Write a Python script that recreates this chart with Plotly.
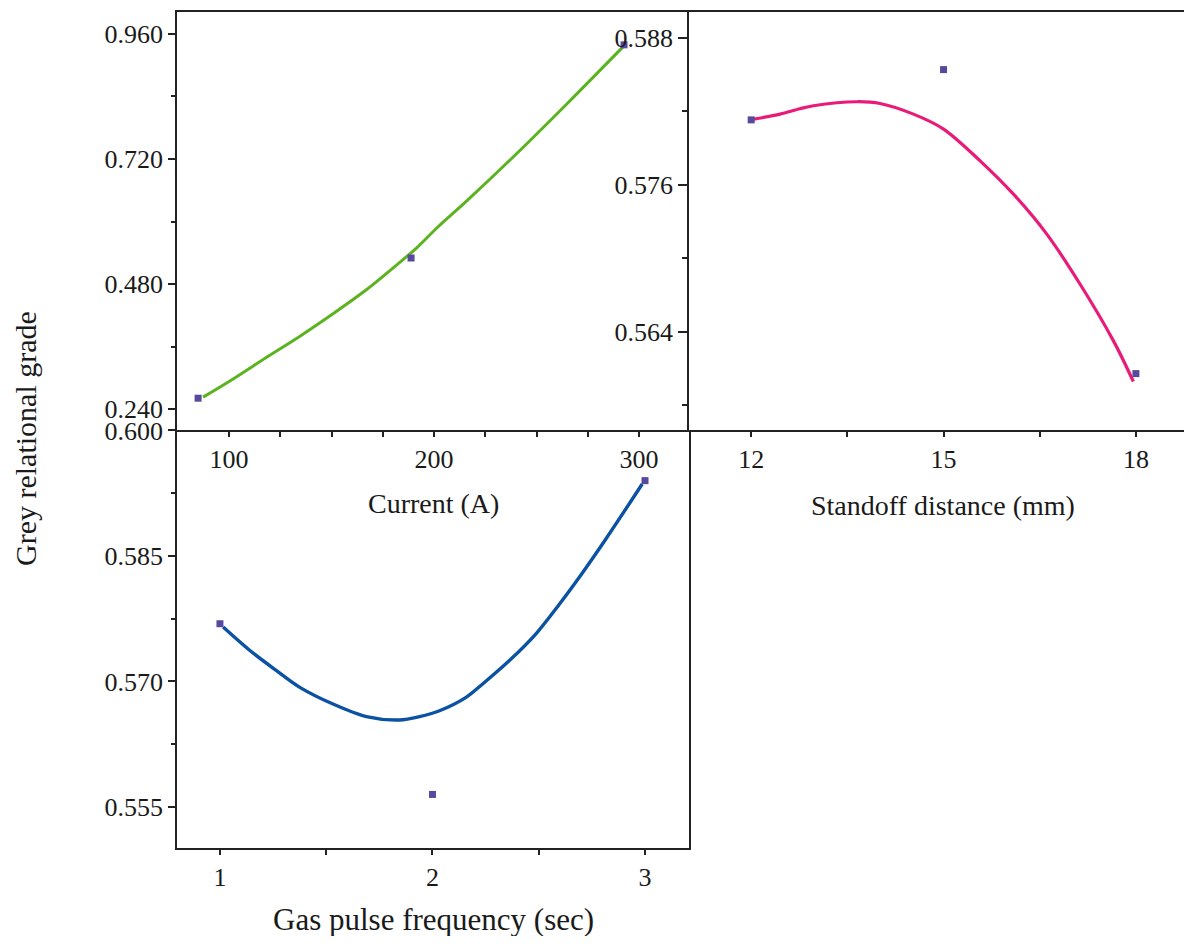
import plotly.graph_objects as go

# ---------------- data ----------------
# Panel 1: Current (A)
current_pts_x = [84.9, 188.8, 292.7]
current_pts_y = [0.261, 0.530, 0.939]
current_fit_x = [87.3, 102.0, 118.5, 134.6, 150.7, 167.3, 183.4, 191.7, 201.5, 216.1, 240.5, 264.9, 292.2]
current_fit_y = [0.263, 0.298, 0.340, 0.380, 0.423, 0.470, 0.522, 0.550, 0.588, 0.640, 0.731, 0.826, 0.935]
current_ticks = [100, 200, 300]
current_minor = [125, 150, 175, 225, 250, 275]
current_yticks = [0.240, 0.480, 0.720, 0.960]
current_yminor = [0.360, 0.600, 0.840]

# Panel 2: Standoff distance (mm)
standoff_pts_x = [12, 15, 18]
standoff_pts_y = [0.5813, 0.5854, 0.5606]
standoff_fit_x = [12.04, 12.45, 12.76, 12.97, 13.65, 14.01, 14.53, 15.00, 15.57, 16.09, 16.61, 17.13, 17.65, 17.96]
standoff_fit_y = [0.58136, 0.58177, 0.58221, 0.58245, 0.58278, 0.58264, 0.58177, 0.58055, 0.57796, 0.57524, 0.57198, 0.56789, 0.56327, 0.55996]
standoff_ticks = [12, 15, 18]
standoff_minor = [13.5, 16.5]
standoff_yticks = [0.564, 0.576, 0.588]
standoff_yminor = [0.558, 0.570, 0.582]

# Panel 3: Gas pulse frequency (sec)
gas_pts_x = [1, 2, 3]
gas_pts_y = [0.5769, 0.5565, 0.5940]
gas_fit_x = [1.015, 1.141, 1.266, 1.376, 1.532, 1.689, 1.845, 1.939, 2.033, 2.158, 2.236, 2.362, 2.487, 2.596, 2.706, 2.815, 2.987]
gas_fit_y = [0.5765, 0.5737, 0.5713, 0.5693, 0.5673, 0.5658, 0.5654, 0.5658, 0.5665, 0.5681, 0.5697, 0.5725, 0.5757, 0.5792, 0.5830, 0.5870, 0.5936]
gas_ticks = [1, 2, 3]
gas_minor = [1.5, 2.5]
gas_yticks = [0.555, 0.570, 0.585, 0.600]
gas_yminor = [0.5625, 0.5775, 0.5925]

# ---------------- layout helpers ----------------
W, H = 1176, 928
OFF = 8  # default body margin of the page


def fx(px):
    return (px - OFF) / W


def fy(py):
    return 1 - (py - OFF) / H


FONT = "Liberation Serif"
TXT = "#1a1a1a"
FRAME = "#222222"
MARK = "#574a9e"

fig = go.Figure()

# fitted curves
fig.add_trace(go.Scatter(x=current_fit_x, y=current_fit_y, mode="lines",
                         line=dict(color="#5cb320", width=3, shape="spline", smoothing=0.9),
                         xaxis="x", yaxis="y", showlegend=False))
fig.add_trace(go.Scatter(x=standoff_fit_x, y=standoff_fit_y, mode="lines",
                         line=dict(color="#e81c78", width=3.2, shape="spline", smoothing=0.9),
                         xaxis="x2", yaxis="y2", showlegend=False))
fig.add_trace(go.Scatter(x=gas_fit_x, y=gas_fit_y, mode="lines",
                         line=dict(color="#0b52a3", width=3.4, shape="spline", smoothing=0.9),
                         xaxis="x3", yaxis="y3", showlegend=False))

# points
for xs, ys, xa, ya in [(current_pts_x, current_pts_y, "x", "y"),
                       (standoff_pts_x, standoff_pts_y, "x2", "y2"),
                       (gas_pts_x, gas_pts_y, "x3", "y3")]:
    fig.add_trace(go.Scatter(x=xs, y=ys, mode="markers", marker=dict(symbol="square", size=7, color=MARK),
                             xaxis=xa, yaxis=ya, showlegend=False, cliponaxis=False))

tickfont = dict(family=FONT, size=26, color=TXT)


def axis(domain, rng, tickvals, minor_vals, anchor, fmt=None, mirror=True, ticklen=6, minorlen=4):
    d = dict(domain=domain, range=rng, tickmode="array", tickvals=tickvals, automargin=False,
             ticks="outside", ticklen=ticklen, tickwidth=1.5, tickcolor=FRAME,
             showline=True, linecolor=FRAME, linewidth=1.6, mirror=mirror,
             showgrid=False, zeroline=False, tickfont=tickfont, anchor=anchor,
             minor=dict(tickmode="array", tickvals=minor_vals, ticks="outside", ticklen=minorlen,
                        tickwidth=1.5, tickcolor=FRAME, showgrid=False))
    if fmt:
        d["tickformat"] = fmt
    return d


xl = [fx(177), fx(689)]
xr = [fx(689), 1.0]
ytop = [fy(430), fy(12)]
ybot = [fy(848), fy(430)]

fig.update_layout(
    width=W, height=H,
    margin=dict(l=0, r=0, t=0, b=0, autoexpand=False),
    paper_bgcolor="white", plot_bgcolor="white",
    font=dict(family=FONT, color=TXT),
    xaxis=axis(xl, [74.6, 324.4], current_ticks, current_minor, "y", ticklen=5, minorlen=5),
    yaxis=axis(ytop, [0.200, 1.002], current_yticks, current_yminor, "x", fmt=".3f", mirror=False, ticklen=7, minorlen=4),
    xaxis2=axis(xr, [11.03, 18.75], standoff_ticks, standoff_minor, "y2", ticklen=5, minorlen=5),
    yaxis2=axis(ytop, [0.556, 0.5901], standoff_yticks, standoff_yminor, "x2", fmt=".3f", mirror=False, ticklen=9, minorlen=5),
    xaxis3=axis(xl, [0.798, 3.207], gas_ticks, gas_minor, "y3", mirror=False, ticklen=5, minorlen=5),
    yaxis3=axis(ybot, [0.5501, 0.60005], gas_yticks, gas_yminor, "x3", fmt=".3f", ticklen=7, minorlen=4),
)

annots = [
    dict(text="Current (A)", x=fx(433), y=fy(503), size=28, angle=0),
    dict(text="Standoff distance (mm)", x=fx(943), y=fy(505), size=28, angle=0),
    dict(text="Gas pulse frequency (sec)", x=fx(433), y=fy(919), size=31, angle=0),
    dict(text="Grey relational grade", x=fx(25), y=fy(439), size=30, angle=-90),
]
for a in annots:
    fig.add_annotation(text=a["text"], x=a["x"], y=a["y"], xref="paper", yref="paper",
                       xanchor="center", yanchor="middle", showarrow=False, textangle=a["angle"],
                       font=dict(family=FONT, size=a["size"], color=TXT))

fig.write_html("out.html")
